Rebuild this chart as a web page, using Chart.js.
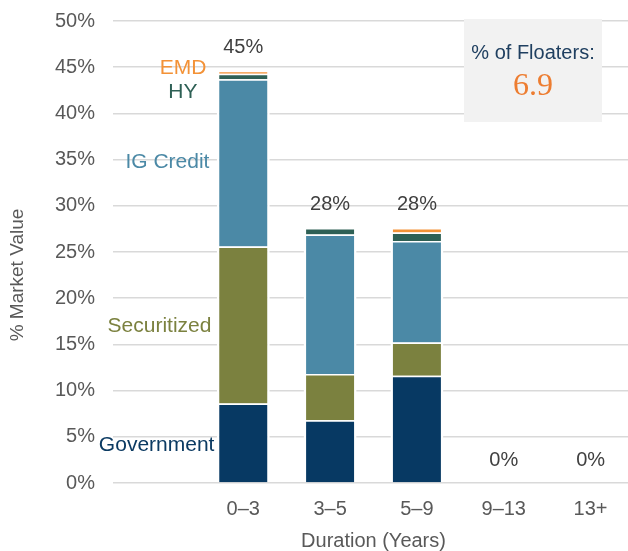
<!DOCTYPE html>
<html>
<head>
<meta charset="utf-8">
<script src="https://cdn.jsdelivr.net/npm/chart.js@4.4.1/dist/chart.umd.min.js"></script>
<style>
  html, body { margin: 0; padding: 0; background: #fff; overflow: hidden; }
  #wrap { width: 634px; height: 551px; }
</style>
</head>
<body>
<div id="wrap"><canvas id="mix" width="634" height="551"></canvas></div>
<script>
// duration buckets (first slot left empty, it holds the sector names)
const durations = ["", "0–3", "3–5", "5–9", "9–13", "13+"];

// % market value per sector
const government  = [null, 8.6, 6.8, 11.6, 0, 0];
const securitized = [null, 17.0, 5.0, 3.6, 0, 0];
const igCredit    = [null, 18.1, 15.1, 11.0, 0, 0];
const highYield   = [null, 0.6, 0.7, 0.9, 0, 0];
const emd         = [null, 0.3, 0, 0.5, 0, 0];

const floaterPct = "6.9";

const FONT = "'Liberation Sans', Arial, sans-serif";
const GREY = "#595959";

function series(label, data, color) {
  return {
    label: label,
    data: data,
    backgroundColor: color,
    borderColor: "#ffffff",
    borderWidth: {top: 1.5, left: 2.5, right: 2.5, bottom: 0},
    borderSkipped: false,
    barPercentage: 0.61,
    categoryPercentage: 1.0,
  };
}

// totals above bars, sector names on the left, floater box, y title
const barAnnotations = {
  id: 'barAnnotations',
  beforeDatasetsDraw(chart) {
    const c = chart.ctx;
    c.save();
    c.fillStyle = "#f2f2f2";
    c.fillRect(464, 19, 138, 103);
    c.textAlign = "center";
    c.textBaseline = "middle";
    c.fillStyle = "#1f3f60";
    c.font = "20px " + FONT;
    c.fillText("% of Floaters:", 533, 53);
    c.fillStyle = "#ed7d31";
    c.font = "32px 'Liberation Serif', serif";
    c.fillText(floaterPct, 533, 87);

    // y axis title, centred on the full height
    c.translate(18, 275);
    c.rotate(-Math.PI / 2);
    c.fillStyle = GREY;
    c.font = "19px " + FONT;
    c.fillText("% Market Value", 0, 0);
    c.restore();
  },
  afterDatasetsDraw(chart, args, opts) {
    const c = chart.ctx;
    const xs = chart.scales.x, ys = chart.scales.y;
    c.save();
    c.textBaseline = "middle";

    // stack totals
    c.textAlign = "center";
    c.fillStyle = "#404040";
    c.font = "20px " + FONT;
    for (let i = 1; i < durations.length; i++) {
      let sum = 0;
      chart.data.datasets.forEach(ds => { sum += ds.data[i] || 0; });
      c.fillText(Math.round(sum) + "%", xs.getPixelForValue(i), ys.getPixelForValue(sum) - 23);
    }

    // sector names
    c.textAlign = "right";
    c.font = "21px " + FONT;
    opts.names.forEach(n => {
      const ds = chart.data.datasets[n.ds];
      c.fillStyle = n.color;
      c.fillText(ds.label, xs.getPixelForValue(0) + n.dx, ys.getPixelForValue(n.y));
    });
    c.restore();
  }
};

const ctx = document.getElementById('mix').getContext('2d');
new Chart(ctx, {
  type: 'bar',
  data: {
    labels: durations,
    datasets: [
      series("Government", government, "#073963"),
      series("Securitized", securitized, "#7b813f"),
      series("IG Credit", igCredit, "#4b89a6"),
      series("HY", highYield, "#2e6055"),
      series("EMD", emd, "#f39237"),
    ]
  },
  options: {
    responsive: false,
    animation: false,
    layout: { padding: 0 },
    plugins: {
      legend: { display: false },
      tooltip: { enabled: false },
      barAnnotations: {
        names: [
          { ds: 0, y: 4.1,  dx: 58, color: "#0b3a62" },
          { ds: 1, y: 17.0, dx: 55, color: "#7b813f" },
          { ds: 2, y: 34.7, dx: 53, color: "#4b89a6" },
          { ds: 3, y: 42.3, dx: 41, color: "#2e6055" },
          { ds: 4, y: 44.9, dx: 50, color: "#f39237" },
        ]
      }
    },
    scales: {
      x: {
        stacked: true,
        grid: { display: false, drawTicks: false },
        border: { display: false },
        ticks: { color: GREY, font: { family: FONT, size: 20 }, padding: 14 },
        title: { display: true, text: "Duration (Years)", color: GREY,
                 font: { family: FONT, size: 20 }, padding: { top: 4, bottom: -2 } },
        afterFit(scale) { scale.height = 68; }
      },
      y: {
        stacked: true,
        min: 0,
        max: 50,
        grid: { color: "#d9d9d9", lineWidth: 1.5, drawTicks: false },
        border: { display: false },
        ticks: { stepSize: 5, color: GREY, font: { family: FONT, size: 20 }, padding: 18,
                 callback: v => v + "%" },
        afterFit(scale) {
          scale.width = 113;
          scale.paddingTop = 21;
        }
      }
    }
  },
  plugins: [barAnnotations]
});
</script>
</body>
</html>
